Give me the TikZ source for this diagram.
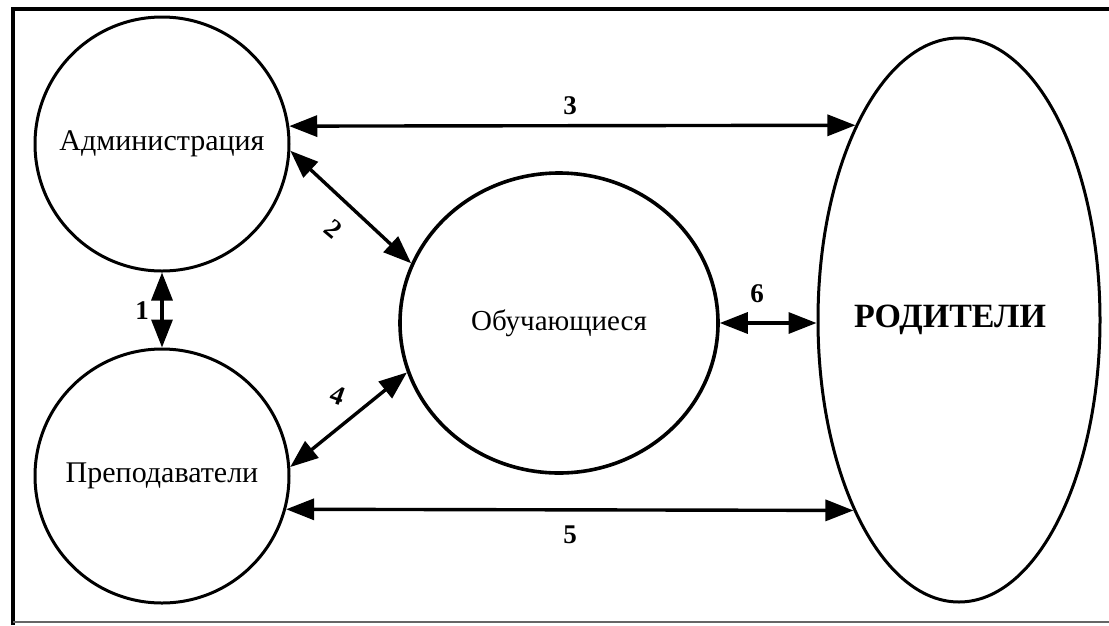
\documentclass[tikz,border=0pt]{standalone}
\usepackage{fontspec}
\setmainfont{Liberation Serif}
\usetikzlibrary{arrows.meta,shapes.geometric}
\tikzset{
  party/.style={draw=black, circle, line width=3pt, inner sep=0pt, font=\fontsize{30}{33}\selectfont},
  learners/.style={draw=black, ellipse, line width=3.6pt, inner sep=0pt, minimum width=318pt, minimum height=300pt, font=\fontsize{29}{32}\selectfont},
  parents/.style={draw=black, ellipse, line width=3pt, inner sep=0pt, minimum width=282pt, minimum height=564pt, font=\bfseries\fontsize{34}{38}\selectfont},
  link/.style={line width=3.4pt, {Triangle[length=28pt,width=21pt]}-{Triangle[length=28pt,width=21pt]}},
  num/.style={font=\bfseries\fontsize{27}{30}\selectfont, inner sep=1pt},
}
\begin{document}
\begin{tikzpicture}[x=1pt,y=-1pt]
\useasboundingbox (0,0) rectangle (1109,625);
% frame
\draw[line width=4pt] (13,625) -- (13,9) -- (1109,9);
\draw[line width=2pt, black!60] (13,622) -- (1109,622);
% nodes
\node[party, minimum size=254pt] (adm) at (162,144) {Администрация};
\node[party, minimum size=254pt] (tea) at (162,476) {Преподаватели};
\node[learners] (stu) at (559,323) {Обучающиеся};
\node[parents] (par) at (959,320) {\hspace*{-18pt}РОДИТЕЛИ};
% connectors
\draw[link] (adm.south) -- (tea.north);
\draw[link] (adm.-3) -- (stu.158);
\draw[link] (tea.4) -- (stu.-162);
\draw[link] (adm.8.5) -- (par.118);
\draw[link] (tea.-15) -- (par.-119.2);
\draw[link] (stu.east) -- (stu.east -| par.west);
% labels
\node[num] (n1) at (142,311) {1};
\node[num, rotate=-40] (n2) at (333,229) {2};
\node[num] (n3) at (570,106) {3};
\node[num, rotate=-20] (n4) at (338,395) {4};
\node[num] (n5) at (570,535) {5};
\node[num] (n6) at (757,294) {6};
\end{tikzpicture}
\end{document}
